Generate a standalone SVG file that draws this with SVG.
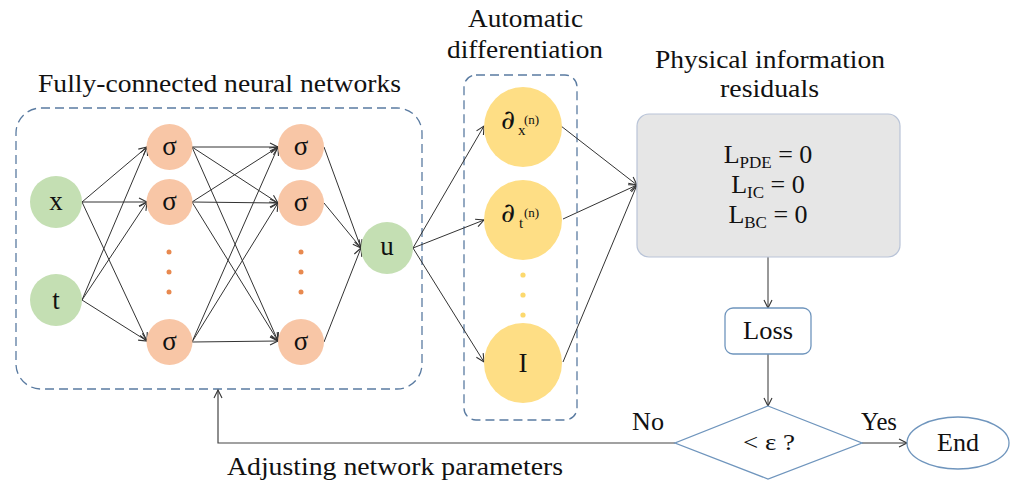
<svg xmlns="http://www.w3.org/2000/svg" width="1014" height="484" viewBox="0 0 1014 484">
  <defs>
    <marker id="arrow" markerUnits="userSpaceOnUse" markerWidth="12" markerHeight="12" refX="9" refY="5" orient="auto">
      <path d="M1,1 L9,5 L1,9" fill="none" stroke="#333" stroke-width="1.1"/>
    </marker>
    <style>
      text { font-family: "Liberation Serif", "DejaVu Serif", serif; fill: #111; }
      .title { font-size: 25px; }
      .lbl { font-size: 27px; text-anchor: middle; }
      .in { fill: #c4dfb3; }
      .hid { fill: #f8c6a6; }
      .ad { fill: #fede85; }
      .dot-o { fill: #e8894f; }
      .dot-y { fill: #fcd96e; }
      .group { fill: none; stroke: #5a7ba1; stroke-width: 1.3; stroke-dasharray: 9 5; }
      .edge { fill: none; stroke: #333; stroke-width: 1; marker-end: url(#arrow); }
      .flow { fill: none; stroke: #444; stroke-width: 1.2; }
      .box { fill: #fff; stroke: #6f95bd; stroke-width: 1.3; }
      text.pd { font-family: "DejaVu Serif", serif; font-size: 27px; }
    </style>
  </defs>
  <rect width="1014" height="484" fill="#fff"/>

  <!-- section titles -->
  <text class="title" x="38" y="92" textLength="363" lengthAdjust="spacingAndGlyphs">Fully-connected neural networks</text>
  <text class="title" x="468" y="27" textLength="115" lengthAdjust="spacingAndGlyphs">Automatic</text>
  <text class="title" x="447" y="58" textLength="156" lengthAdjust="spacingAndGlyphs">differentiation</text>
  <text class="title" x="655" y="68" textLength="230" lengthAdjust="spacingAndGlyphs">Physical information</text>
  <text class="title" x="720" y="97" textLength="99" lengthAdjust="spacingAndGlyphs">residuals</text>

  <!-- dashed group frames -->
  <rect id="nn-frame" class="group" x="16" y="108" width="406" height="281" rx="25"/>
  <rect id="ad-frame" class="group" x="464" y="75" width="113" height="345" rx="12"/>

  <!-- connectors -->
  <g id="connectors">
    <!-- inputs to first hidden layer -->
    <line class="edge" x1="82" y1="202" x2="147" y2="147"/>
    <line class="edge" x1="82" y1="202" x2="147" y2="202"/>
    <line class="edge" x1="82" y1="202" x2="147" y2="341"/>
    <line class="edge" x1="82" y1="300" x2="147" y2="147"/>
    <line class="edge" x1="82" y1="300" x2="147" y2="202"/>
    <line class="edge" x1="82" y1="300" x2="147" y2="341"/>
    <!-- first hidden layer to second hidden layer -->
    <line class="edge" x1="192" y1="147" x2="278" y2="147"/>
    <line class="edge" x1="192" y1="147" x2="278" y2="203"/>
    <line class="edge" x1="192" y1="147" x2="278" y2="341"/>
    <line class="edge" x1="192" y1="202" x2="278" y2="147"/>
    <line class="edge" x1="192" y1="202" x2="278" y2="203"/>
    <line class="edge" x1="192" y1="202" x2="278" y2="341"/>
    <line class="edge" x1="192" y1="342" x2="278" y2="147"/>
    <line class="edge" x1="192" y1="342" x2="278" y2="203"/>
    <line class="edge" x1="192" y1="342" x2="278" y2="341"/>
    <!-- second hidden layer to output -->
    <line class="edge" x1="324" y1="147" x2="361" y2="248"/>
    <line class="edge" x1="324" y1="203" x2="361" y2="248"/>
    <line class="edge" x1="324" y1="342" x2="361" y2="248"/>
    <!-- output to derivative operators -->
    <line class="edge" x1="413" y1="248" x2="484" y2="126"/>
    <line class="edge" x1="413" y1="248" x2="484" y2="220"/>
    <line class="edge" x1="413" y1="248" x2="484" y2="362"/>
    <!-- derivative operators to residuals -->
    <line class="edge" x1="561" y1="126" x2="637" y2="185"/>
    <line class="edge" x1="563" y1="219" x2="637" y2="185"/>
    <line class="edge" x1="563" y1="362" x2="637" y2="185"/>
    <!-- training loop -->
    <line class="edge" x1="768" y1="257" x2="768" y2="308"/>
    <line class="edge" x1="768" y1="354" x2="768" y2="406"/>
    <line class="edge" x1="862" y1="443" x2="907" y2="443"/>
    <polyline class="flow" points="675,443 218,443 218,390" marker-end="url(#arrow)"/>
  </g>

  <!-- input nodes -->
  <g id="node-x"><circle class="in" cx="56" cy="202" r="26"/><text class="lbl" x="56" y="210">x</text></g>
  <g id="node-t"><circle class="in" cx="56" cy="300" r="26"/><text class="lbl" x="56" y="309">t</text></g>

  <!-- first hidden layer -->
  <g id="h1-1"><circle class="hid" cx="169.5" cy="147" r="23"/><text class="lbl" x="169.5" y="155">σ</text></g>
  <g id="h1-2"><circle class="hid" cx="169.5" cy="202" r="23"/><text class="lbl" x="169.5" y="210">σ</text></g>
  <g id="h1-dots"><circle class="dot-o" cx="169" cy="252" r="2.5"/><circle class="dot-o" cx="169" cy="272" r="2.5"/><circle class="dot-o" cx="169" cy="292" r="2.5"/></g>
  <g id="h1-n"><circle class="hid" cx="169.5" cy="342" r="23"/><text class="lbl" x="169.5" y="350">σ</text></g>

  <!-- second hidden layer -->
  <g id="h2-1"><circle class="hid" cx="301" cy="147" r="23"/><text class="lbl" x="301" y="155">σ</text></g>
  <g id="h2-2"><circle class="hid" cx="301" cy="203" r="23"/><text class="lbl" x="301" y="211">σ</text></g>
  <g id="h2-dots"><circle class="dot-o" cx="301" cy="252" r="2.5"/><circle class="dot-o" cx="301" cy="272" r="2.5"/><circle class="dot-o" cx="301" cy="292" r="2.5"/></g>
  <g id="h2-n"><circle class="hid" cx="301" cy="342" r="23"/><text class="lbl" x="301" y="350">σ</text></g>

  <!-- network output -->
  <g id="node-u"><circle class="in" cx="387" cy="248" r="26"/><text class="lbl" x="387" y="255">u</text></g>

  <!-- derivative operators -->
  <g id="ad-dx">
    <ellipse class="ad" cx="523" cy="127" rx="39" ry="40"/>
    <text class="pd" x="501" y="129">∂</text>
    <text x="518" y="135" font-size="15">x</text>
    <text x="524" y="124" font-size="13">(n)</text>
  </g>
  <g id="ad-dt">
    <ellipse class="ad" cx="523" cy="220" rx="39" ry="40"/>
    <text class="pd" x="501" y="222">∂</text>
    <text x="519" y="228" font-size="15">t</text>
    <text x="524" y="217" font-size="13">(n)</text>
  </g>
  <g id="ad-dots"><circle class="dot-y" cx="523" cy="275" r="2.6"/><circle class="dot-y" cx="523" cy="295" r="2.6"/><circle class="dot-y" cx="523" cy="315" r="2.6"/></g>
  <g id="ad-id">
    <ellipse class="ad" cx="523" cy="363" rx="39" ry="40"/>
    <text class="lbl" x="523" y="372">I</text>
  </g>

  <!-- residual terms -->
  <g id="residuals">
    <rect x="637" y="114" width="263" height="143" rx="12" fill="#e6e6e6" stroke="#b9c4d8" stroke-width="1.2"/>
    <text x="768" y="163" font-size="26" text-anchor="middle">L<tspan font-size="17" dy="5">PDE</tspan><tspan dy="-5"> = 0</tspan></text>
    <text x="768" y="193" font-size="26" text-anchor="middle">L<tspan font-size="17" dy="5">IC</tspan><tspan dy="-5"> = 0</tspan></text>
    <text x="768" y="223" font-size="26" text-anchor="middle">L<tspan font-size="17" dy="5">BC</tspan><tspan dy="-5"> = 0</tspan></text>
  </g>

  <!-- loss -->
  <g id="loss">
    <rect class="box" x="725" y="308" width="86" height="46" rx="8"/>
    <text x="768" y="339" font-size="26" text-anchor="middle" textLength="50" lengthAdjust="spacingAndGlyphs">Loss</text>
  </g>

  <!-- convergence test -->
  <g id="check">
    <polygon class="box" points="768,406 862,443 768,479 675,443"/>
    <text x="769" y="450" font-size="23" text-anchor="middle" textLength="52" lengthAdjust="spacingAndGlyphs">&lt; ε ?</text>
  </g>

  <!-- end -->
  <g id="end">
    <ellipse class="box" cx="958" cy="443" rx="51" ry="26"/>
    <text x="958" y="451" font-size="26" text-anchor="middle" textLength="42" lengthAdjust="spacingAndGlyphs">End</text>
  </g>

  <!-- branch labels -->
  <text x="632" y="430" font-size="25" textLength="32" lengthAdjust="spacingAndGlyphs">No</text>
  <text x="861" y="430" font-size="25" textLength="36" lengthAdjust="spacingAndGlyphs">Yes</text>
  <text class="title" x="227" y="475" textLength="336" lengthAdjust="spacingAndGlyphs">Adjusting network parameters</text>
</svg>
